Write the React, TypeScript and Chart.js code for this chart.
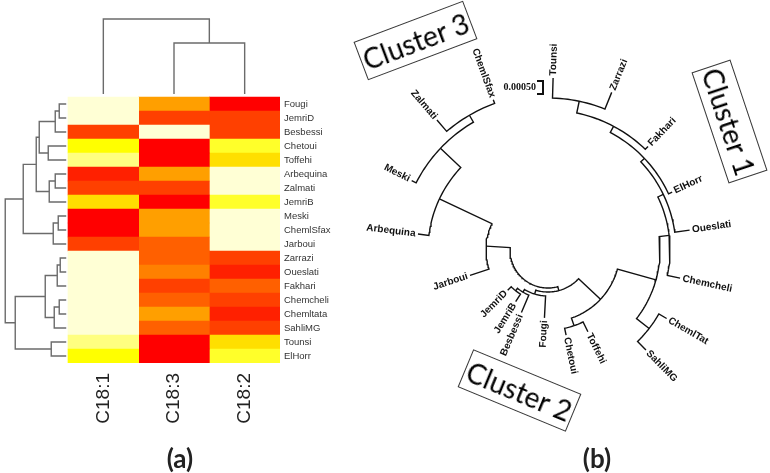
import React, { useEffect, useRef } from 'react';
import { Chart, registerables } from 'chart.js';

Chart.register(...registerables);

// ---------------- Panel (a): heatmap data ----------------
const rowNames = ['Fougi', 'JemriD', 'Besbessi', 'Chetoui', 'Toffehi', 'Arbequina', 'Zalmati', 'JemriB', 'Meski', 'ChemlSfax', 'Jarboui', 'Zarrazi', 'Oueslati', 'Fakhari', 'Chemcheli', 'Chemltata', 'SahliMG', 'Tounsi', 'ElHorr'];
const colNames = ['C18:1', 'C18:3', 'C18:2'];
// heat.colors(12): index 0 = red ... 11 = pale yellow
const heatPalette = ['#FF0000', '#FF2000', '#FF4000', '#FF6000', '#FF8000', '#FF9F00', '#FFBF00', '#FFDF00', '#FFFF00', '#FFFF2A', '#FFFF80', '#FFFFD5'];
const levelC181 = [11, 11, 2, 8, 10, 1, 2, 7, 0, 0, 2, 11, 11, 11, 11, 11, 11, 10, 8];
const levelC183 = [5, 2, 11, 0, 0, 5, 2, 0, 5, 5, 3, 3, 4, 2, 3, 5, 3, 0, 0];
const levelC182 = [0, 2, 2, 9, 7, 11, 11, 9, 11, 11, 11, 2, 1, 3, 2, 1, 2, 7, 9];
const columnLevels = [levelC181, levelC183, levelC182];

// row dendrogram (R-style merge: negative = leaf, positive = earlier merge)
const rowMergeA = [-1, 1, -4, 2, -6, 5, 4, -9, 8, 7, -12, 11, -15, 13, 12, -18, 15, 10];
const rowMergeB = [-2, -3, -5, 3, -7, -8, 6, -10, -11, 9, -13, -14, -16, -17, 14, -19, 16, 17];
const rowMergeHeight = [7, 11, 18, 27, 11, 17, 30, 8, 13, 43, 6, 9, 7, 12, 21, 15, 51, 61];
// column dendrogram
const colMergeA = [-2, -1];
const colMergeB = [-3, 1];
const colMergeHeight = [51, 75];

// ---------------- Panel (b): circular tree data ----------------
const leafNames = ['Tounsi', 'Zarrazi', 'Fakhari', 'ElHorr', 'Oueslati', 'Chemcheli', 'ChemlTat', 'SahliMG', 'Toffehi', 'Chetoui', 'Fougi', 'Besbessi', 'JemriB', 'JemriD', 'Jarboui', 'Arbequina', 'Meski', 'Zalmati', 'ChemlSfax'];
const leafAngle = [1.7, 22, 44, 65, 82, 102, 120, 135.6, 154, 168, 183, 203, 212, 225, 252, 277, 297, 319.5, 340];
const leafRadius = [172, 170, 144, 137, 143, 135, 137, 140, 91, 87, 68, 68, 61, 57, 82, 131, 153, 171, 160];
const treeMergeA = [-1, 1, 2, 3, 4, -7, 5, -9, 7, -13, -12, -11, 9, -18, -17, -16, -15, 13];
const treeMergeB = [-2, -3, -4, -5, -6, -8, 6, -10, 8, -14, 10, 11, 12, -19, 14, 15, 16, 17];
const treeNodeRadius = [152, 140, 133, 128, 122, 128, 112, 80, 72, 52, 49, 46, 42, 156, 148, 120, 62, 38];
const scaleBarLabel = '0.00050';
const scaleBarLength = 13;

const clusterNames = ['Cluster 1', 'Cluster 2', 'Cluster 3'];

// ---------------- layout constants ----------------
const ROW_DENDRO_K = 1 / 70.667; // x units per height unit
const ROW_LEAF_X = -0.025;
const COL_DENDRO_K = 1 / 14; // y units per height unit
const COL_LEAF_Y = -0.71;
const clusterLayout = [
  { cx: 729, cy: 121, rot: 71.5 },
  { cx: 519, cy: 390, rot: 22.5 },
  { cx: 415, cy: 40, rot: -20.7 },
];

type Seg = { pa: number; ha: number; pb: number; hb: number; h: number };

function buildMerges(mA: number[], mB: number[], mH: number[], leafPos: (i: number) => number, leafH: (i: number) => number) {
  const pos: number[] = [];
  const segs: Seg[] = [];
  for (let k = 0; k < mA.length; k++) {
    const a = mA[k];
    const b = mB[k];
    const pa = a < 0 ? leafPos(-a - 1) : pos[a - 1];
    const pb = b < 0 ? leafPos(-b - 1) : pos[b - 1];
    const ha = a < 0 ? leafH(-a - 1) : mH[a - 1];
    const hb = b < 0 ? leafH(-b - 1) : mH[b - 1];
    pos[k] = (pa + pb) / 2;
    segs.push({ pa, ha, pb, hb, h: mH[k] });
  }
  return segs;
}

function heatmapConfig(): any {
  const barSets = colNames.map((name, c) => ({
    type: 'bar',
    label: name,
    indexAxis: 'y',
    data: rowNames.map((_, i) => ({ x: [c, c + 1], y: i })),
    backgroundColor: columnLevels[c].map((l) => heatPalette[l]),
    borderWidth: 0,
    grouped: false,
    barPercentage: 1,
    categoryPercentage: 1,
  }));
  const lineStyle = { type: 'line', indexAxis: 'x', borderColor: '#6b6b6b', borderWidth: 1.4, pointRadius: 0, fill: false, tension: 0 };
  const rx = (h: number) => ROW_LEAF_X - h * ROW_DENDRO_K;
  const rowSegs = buildMerges(rowMergeA, rowMergeB, rowMergeHeight, (i) => i, () => 0);
  const rowLines = rowSegs.map((s) => ({
    ...lineStyle,
    data: [
      { x: rx(s.ha), y: s.pa },
      { x: rx(s.h), y: s.pa },
      { x: rx(s.h), y: s.pb },
      { x: rx(s.hb), y: s.pb },
    ],
  }));
  const cy = (h: number) => COL_LEAF_Y - h * COL_DENDRO_K;
  const colSegs = buildMerges(colMergeA, colMergeB, colMergeHeight, (i) => i + 0.5, () => 0);
  const colLines = colSegs.map((s) => ({
    ...lineStyle,
    data: [
      { x: s.pa, y: cy(s.ha) },
      { x: s.pa, y: cy(s.h) },
      { x: s.pb, y: cy(s.h) },
      { x: s.pb, y: cy(s.hb) },
    ],
  }));
  return {
    type: 'bar',
    data: { datasets: [...barSets, ...rowLines, ...colLines] },
    options: {
      indexAxis: 'y',
      responsive: false,
      animation: false,
      events: [],
      layout: { padding: { left: 2, top: 10, right: 0, bottom: 0 } },
      plugins: { legend: { display: false }, tooltip: { enabled: false } },
      scales: {
        x: {
          type: 'linear',
          min: -0.934,
          max: 3,
          offset: false,
          grid: { display: false, drawTicks: false },
          border: { display: false },
          afterBuildTicks: (scale: any) => {
            scale.ticks = colNames.map((_, i) => ({ value: i + 0.5 }));
          },
          afterFit: (scale: any) => {
            scale.height = 110;
          },
          ticks: {
            autoSkip: false,
            minRotation: 90,
            maxRotation: 90,
            padding: 10,
            color: '#222',
            font: { family: '"Liberation Sans", Arial, sans-serif', size: 19 },
            callback: (v: any) => colNames[Math.floor(Number(v))] ?? '',
          },
        },
        y: {
          type: 'linear',
          position: 'right',
          reverse: true,
          min: -6.714,
          max: 18.5,
          offset: false,
          grid: { display: false, drawTicks: false },
          border: { display: false },
          afterBuildTicks: (scale: any) => {
            scale.ticks = rowNames.map((_, i) => ({ value: i }));
          },
          afterFit: (scale: any) => {
            scale.width = 60;
          },
          ticks: {
            autoSkip: false,
            padding: 4,
            color: '#333',
            font: { family: '"Liberation Sans", Arial, sans-serif', size: 9.5 },
            callback: (v: any) => rowNames[Number(v)] ?? '',
          },
        },
      },
    },
  };
}

const polar = (thetaDeg: number, r: number) => {
  const t = (thetaDeg * Math.PI) / 180;
  return { x: r * Math.sin(t), y: r * Math.cos(t) };
};

function treeConfig(): any {
  const segs = buildMerges(treeMergeA, treeMergeB, treeNodeRadius, (i) => leafAngle[i], (i) => leafRadius[i]);
  const lineStyle = { type: 'line', borderColor: '#111', borderWidth: 1.4, pointRadius: 0, fill: false, tension: 0 };
  const branchSets = segs.map((s) => {
    const pts = [polar(s.pa, s.ha)];
    const n = Math.max(2, Math.ceil(Math.abs(s.pb - s.pa) / 1.5));
    for (let j = 0; j <= n; j++) pts.push(polar(s.pa + ((s.pb - s.pa) * j) / n, s.h));
    pts.push(polar(s.pb, s.hb));
    return { ...lineStyle, data: pts };
  });
  // scale bar bracket
  const sbX = -5;
  const sbY = 156;
  const scaleBar = {
    ...lineStyle,
    borderWidth: 2,
    data: [
      { x: sbX - 6, y: sbY + scaleBarLength },
      { x: sbX, y: sbY + scaleBarLength },
      { x: sbX, y: sbY },
      { x: sbX - 6, y: sbY },
    ],
  };
  const labelPlugin = {
    id: 'leafLabels',
    afterDatasetsDraw(chart: any) {
      const { ctx } = chart;
      const xs = chart.scales.x;
      const ys = chart.scales.y;
      ctx.save();
      ctx.fillStyle = '#111';
      ctx.textBaseline = 'middle';
      ctx.font = 'bold 10px "Liberation Sans", Arial, sans-serif';
      leafNames.forEach((name, i) => {
        const th = leafAngle[i];
        const p = polar(th, leafRadius[i] + 2.5);
        const px = xs.getPixelForValue(p.x);
        const py = ys.getPixelForValue(p.y);
        ctx.save();
        ctx.translate(px, py);
        const a = ((th - 90) * Math.PI) / 180;
        if (th < 180) {
          ctx.rotate(a);
          ctx.textAlign = 'left';
        } else {
          ctx.rotate(a - Math.PI);
          ctx.textAlign = 'right';
        }
        ctx.fillText(name, 0, 0);
        ctx.restore();
      });
      ctx.font = 'bold 10px "Liberation Serif", serif';
      ctx.textAlign = 'right';
      ctx.fillText(scaleBarLabel, xs.getPixelForValue(sbX - 7), ys.getPixelForValue(sbY + scaleBarLength / 2));
      ctx.restore();
    },
  };
  return {
    type: 'line',
    data: { datasets: [...branchSets, scaleBar] },
    plugins: [labelPlugin],
    options: {
      responsive: false,
      animation: false,
      events: [],
      layout: { padding: 0 },
      plugins: { legend: { display: false }, tooltip: { enabled: false } },
      scales: {
        x: { type: 'linear', min: -218, max: 222, display: false },
        y: { type: 'linear', min: -223, max: 250, display: false },
      },
    },
  };
}

export default function App() {
  const refA = useRef<HTMLCanvasElement>(null);
  const refB = useRef<HTMLCanvasElement>(null);
  useEffect(() => {
    const a = new Chart(refA.current as HTMLCanvasElement, heatmapConfig());
    const b = new Chart(refB.current as HTMLCanvasElement, treeConfig());
    return () => {
      a.destroy();
      b.destroy();
    };
  }, []);
  const boxW = 117;
  const boxH = 41;
  return (
    <div style={{ position: 'absolute', left: 0, top: 0, width: 770, height: 473, background: '#fff', overflow: 'hidden' }}>
      <canvas ref={refA} width={340} height={473} style={{ position: 'absolute', left: 0, top: 0 }} />
      <canvas ref={refB} width={440} height={473} style={{ position: 'absolute', left: 330, top: 0 }} />
      {clusterNames.map((name, i) => (
        <div
          key={name}
          style={{
            position: 'absolute',
            left: clusterLayout[i].cx - boxW / 2,
            top: clusterLayout[i].cy - boxH / 2,
            width: boxW,
            height: boxH,
            boxSizing: 'border-box',
            border: '1px solid #333',
            background: '#fff',
            transform: `rotate(${clusterLayout[i].rot}deg)`,
            display: 'flex',
            alignItems: 'center',
            justifyContent: 'center',
            fontFamily: 'Lato, "Open Sans", sans-serif',
            fontSize: 28,
            color: '#000',
            whiteSpace: 'nowrap',
          }}
        >
          {name}
        </div>
      ))}
      <div style={{ position: 'absolute', left: 150, top: 442, width: 60, textAlign: 'center', fontFamily: 'Lato, sans-serif', fontWeight: 'bold', fontSize: 26, color: '#222' }}>(a)</div>
      <div style={{ position: 'absolute', left: 567, top: 442, width: 60, textAlign: 'center', fontFamily: 'Lato, sans-serif', fontWeight: 'bold', fontSize: 26, color: '#222' }}>(b)</div>
    </div>
  );
}
